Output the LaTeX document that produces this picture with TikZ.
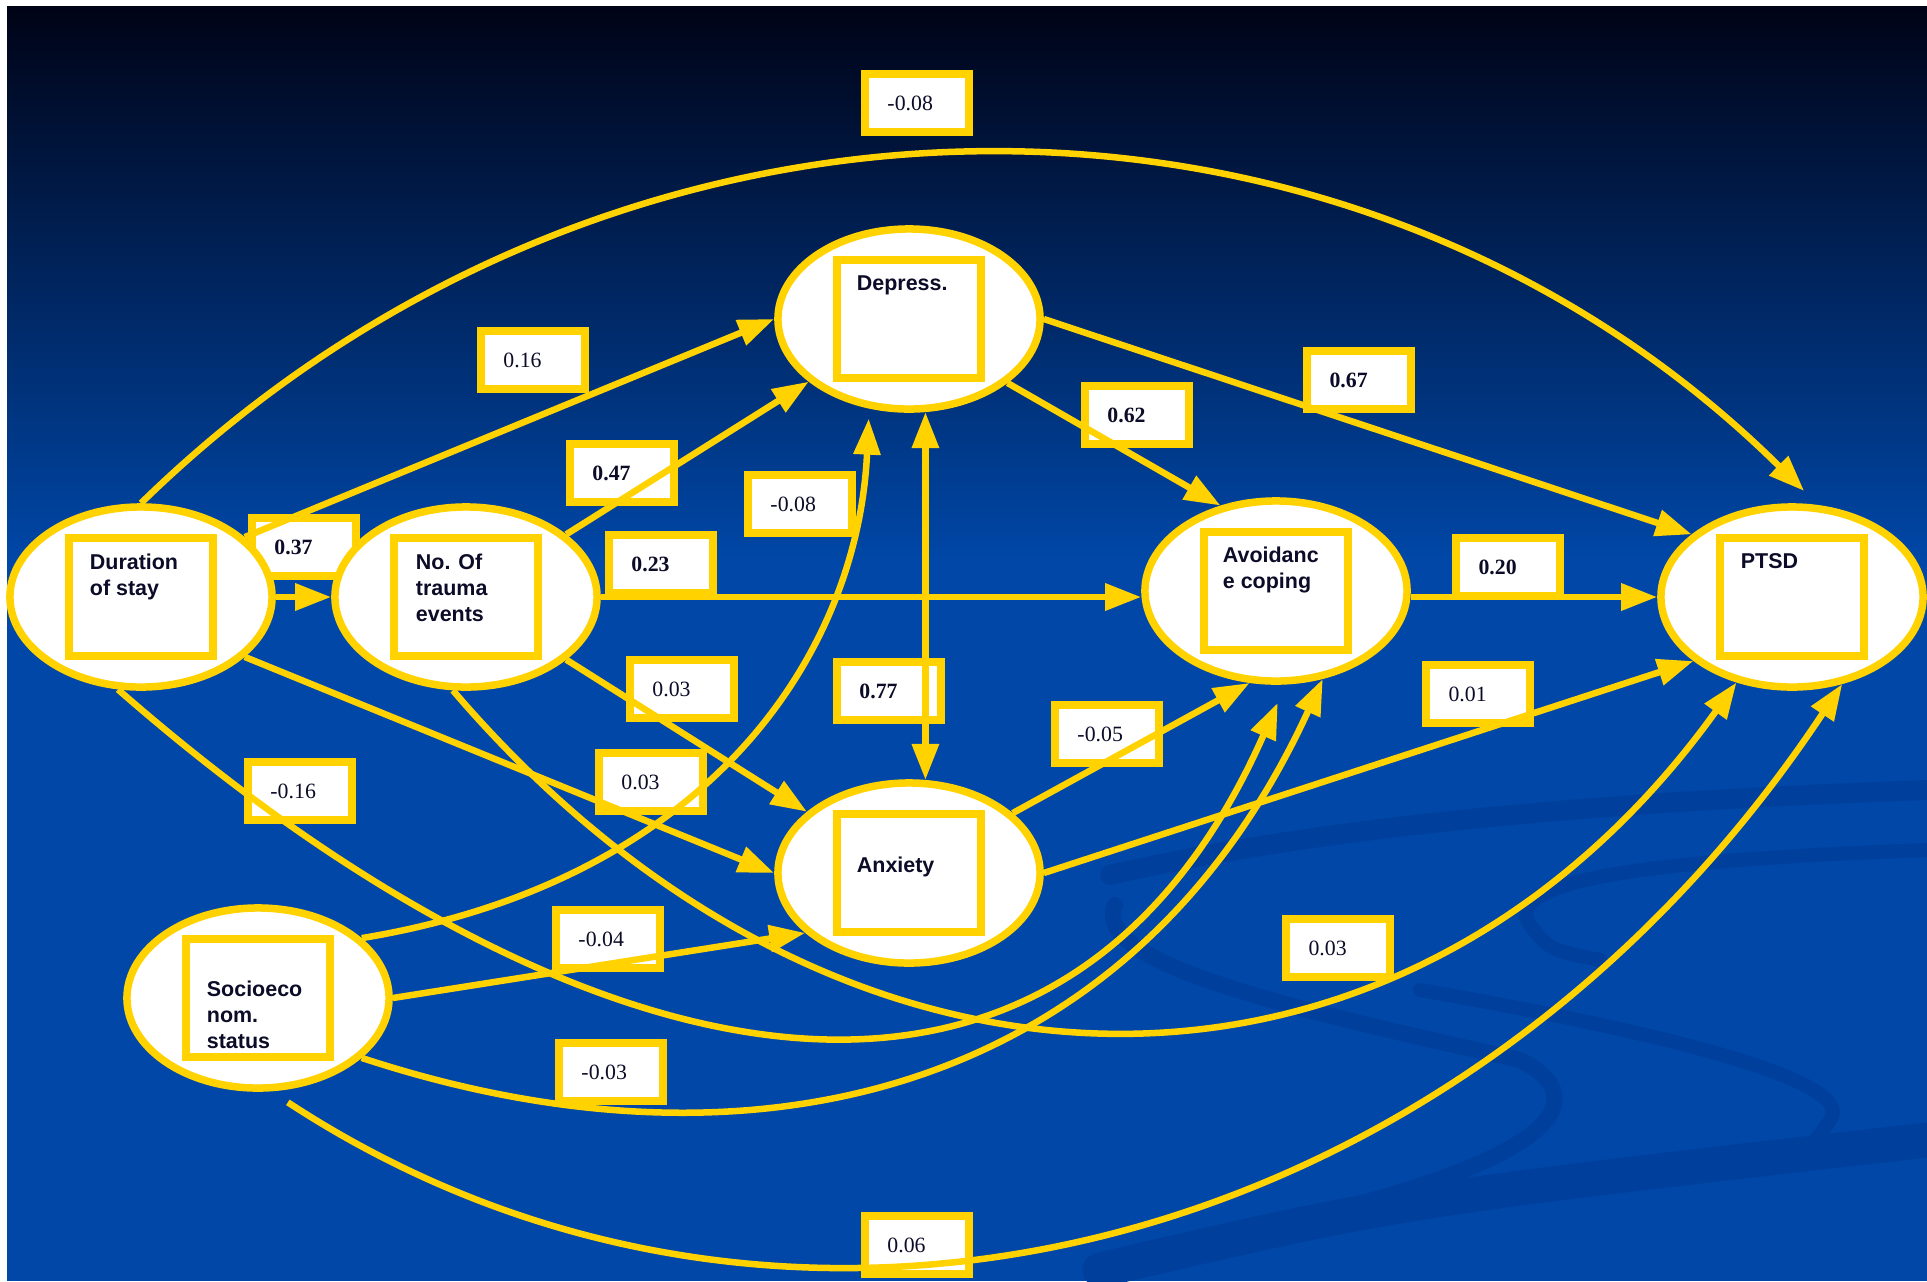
\documentclass[tikz,border=0pt]{standalone}
\usepackage{fontspec}
\setmainfont{Liberation Serif}
\setsansfont{Liberation Sans}
\usetikzlibrary{arrows.meta,calc,shapes.geometric}

\definecolor{gold}{RGB}{255,210,0}
\definecolor{bgtop}{RGB}{0,3,22}
\definecolor{bgmid}{RGB}{0,36,104}
\definecolor{bgblue}{RGB}{0,71,167}
\definecolor{bgdark}{RGB}{0,64,156}
\definecolor{ink}{RGB}{12,12,40}

\pgfdeclarelayer{back}
\pgfdeclarelayer{mid}
\pgfsetlayers{back,mid,main}

\tikzset{
  factor/.style={ellipse, draw=gold, fill=white, line width=0.075cm,
    minimum width=2.62cm, minimum height=1.80cm, inner sep=0pt},
  factorbox/.style={rectangle, draw=gold, fill=white, line width=0.075cm,
    minimum width=1.44cm, minimum height=1.18cm, inner sep=0pt},
  factortext/.style={anchor=north west, inner sep=0pt, align=left, text=ink,
    font=\sffamily\bfseries\fontsize{6.1}{7.4}\selectfont},
  coef/.style={rectangle, draw=gold, fill=white, line width=0.08cm,
    minimum height=0.58cm, text width=0.59cm, inner xsep=0.22cm, align=left,
    text=ink, font=\fontsize{6.2}{7}\selectfont},
  coefbold/.style={coef, font=\bfseries\fontsize{6.2}{7}\selectfont},
  link/.style={draw=gold, line width=0.065cm, ->},
  swirl/.style={draw=bgdark, line cap=round},
}

\begin{document}
\begin{tikzpicture}[x=0.01cm, y=-0.01cm, >={Triangle[length=0.36cm,width=0.26cm]}]
  \useasboundingbox (0,0) rectangle (1927,1281);

  % background
  \begin{pgfonlayer}{back}
    \fill[white] (0,0) rectangle (1927,1281);
    \shade[top color=bgtop, middle color=bgmid, bottom color=bgblue] (7,6) rectangle (1927,560);
    \fill[bgblue] (7,559) rectangle (1927,1281);
    \draw[swirl, line width=0.2cm] (1110,875) .. controls (1350,820) and (1650,800) .. (1927,790);
    \draw[swirl, line width=0.14cm] (1927,850) .. controls (1650,860) and (1500,880) .. (1530,925) .. controls (1550,950) .. (1600,960);
    \draw[swirl, line width=0.16cm] (1115,905) .. controls (1090,965) and (1300,1010) .. (1520,1060) .. controls (1600,1100) and (1560,1170) .. (1200,1240);
    \draw[swirl, line width=0.14cm] (1420,990) .. controls (1650,1030) and (1860,1080) .. (1830,1120) .. controls (1810,1150) .. (1740,1170);
    \draw[swirl, line width=0.35cm] (1100,1270) .. controls (1400,1200) .. (1927,1140);
  \end{pgfonlayer}

  % path coefficients
  \begin{pgfonlayer}{mid}
    \node[coef]     (ldurptsd)    at (917,103)  {-0.08};
    \node[coef]     (ldurdep)     at (533,360)  {0.16};
    \node[coefbold] (ltraumadep)  at (622,473)  {0.47};
    \node[coef]     (lsesdep)     at (800,504)  {-0.08};
    \node[coefbold] (ldurtrauma)  at (304,547)  {0.37};
    \node[coefbold] (ltraumaavd)  at (661,564)  {0.23};
    \node[coefbold] (ldepavd)     at (1137,415) {0.62};
    \node[coefbold] (ldepptsd)    at (1359,380) {0.67};
    \node[coefbold] (lavdptsd)    at (1508,567) {0.20};
    \node[coef]     (ltraumaanx)  at (682,689)  {0.03};
    \node[coefbold] (ldepanx)     at (889,691)  {0.77};
    \node[coef]     (lanxavd)     at (1107,734) {-0.05};
    \node[coef]     (lanxptsd)    at (1478,694) {0.01};
    \node[coef]     (lduravd)     at (300,791)  {-0.16};
    \node[coef]     (ldurnanx)    at (651,782)  {0.03};
    \node[coef]     (lsesanx)     at (608,939)  {-0.04};
    \node[coef]     (ltraumaptsd) at (1338,948) {0.03};
    \node[coef]     (lsesavd)     at (611,1072) {-0.03};
    \node[coef]     (lsesptsd)    at (917,1245) {0.06};
  \end{pgfonlayer}

  % factors
  \node[factor] (dur)    at (141,597)  {};
  \node[factor] (trauma) at (466,597)  {};
  \node[factor] (dep)    at (909,319)  {};
  \node[factor] (avd)    at (1276,591) {};
  \node[factor] (ptsd)   at (1792,597) {};
  \node[factor] (anx)    at (909,873)  {};
  \node[factor] (ses)    at (258,998)  {};

  \node[factorbox] (durbox)    at (dur)    {};
  \node[factorbox] (traumabox) at (trauma) {};
  \node[factorbox] (depbox)    at (dep)    {};
  \node[factorbox] (avdbox)    at (avd)    {};
  \node[factorbox] (ptsdbox)   at (ptsd)   {};
  \node[factorbox] (anxbox)    at (anx)    {};
  \node[factorbox] (sesbox)    at (ses)    {};

  \node[factortext] (durtext)    at ($(durbox.north west)+(24,19)$)    {Duration\\of stay};
  \node[factortext] (traumatext) at ($(traumabox.north west)+(25,19)$) {No. Of\\trauma\\events};
  \node[factortext] (deptext)    at ($(depbox.north west)+(23,19)$)    {Depress.};
  \node[factortext] (avdtext)    at ($(avdbox.north west)+(22,18)$)    {Avoidanc\\e coping};
  \node[factortext] (ptsdtext)   at ($(ptsdbox.north west)+(24,19)$)   {PTSD};
  \node[factortext] (anxtext)    at ($(anxbox.north west)+(23,46)$)    {Anxiety};
  \node[factortext] (sestext)    at ($(sesbox.north west)+(24,45)$)    {Socioeco\\nom.\\status};

  % paths
  \draw[link, shorten >=0.2cm] (dur.north) .. controls (615,40) and (1348,40) .. (ptsd.74);
  \draw[link] (dur.east) -- (trauma.west);
  \draw[link] (dur.30) -- (dep.west);
  \draw[link] (dur.-30) -- (anx.west);
  \draw[link, shorten >=0.2cm] (dur.256) .. controls (570,1085) and (1056,1205) .. (avd.276);
  \draw[link] (trauma.32) -- (dep.212);
  \draw[link] (trauma.east) -- (trauma.east -| avd.west);
  \draw[link] (trauma.-32) -- (anx.149);
  \draw[link] (trauma.262) .. controls (846,1150) and (1408,1140) .. (ptsd.237);
  \draw[link, shorten >=0.1cm] (ses.30) .. controls (713,880) and (858,650) .. (dep.246);
  \draw[link] (ses.east) -- (anx.210);
  \draw[link] (ses.-30) .. controls (763,1190) and (1136,1087) .. (avd.-62);
  \draw[link, shorten <=0.2cm] (ses.-82) .. controls (783,1427) and (1458,1263) .. (ptsd.-60);
  \draw[link] (dep.-33) -- (avd.123);
  \draw[link] (dep.east) -- (ptsd.148);
  \draw[link, <->] (dep.-80) -- (anx.80);
  \draw[link] (anx.30) -- (avd.254);
  \draw[link] (anx.east) -- (ptsd.213);
  \draw[link] (avd.east |- ptsd.west) -- (ptsd.west);
\end{tikzpicture}
\end{document}
